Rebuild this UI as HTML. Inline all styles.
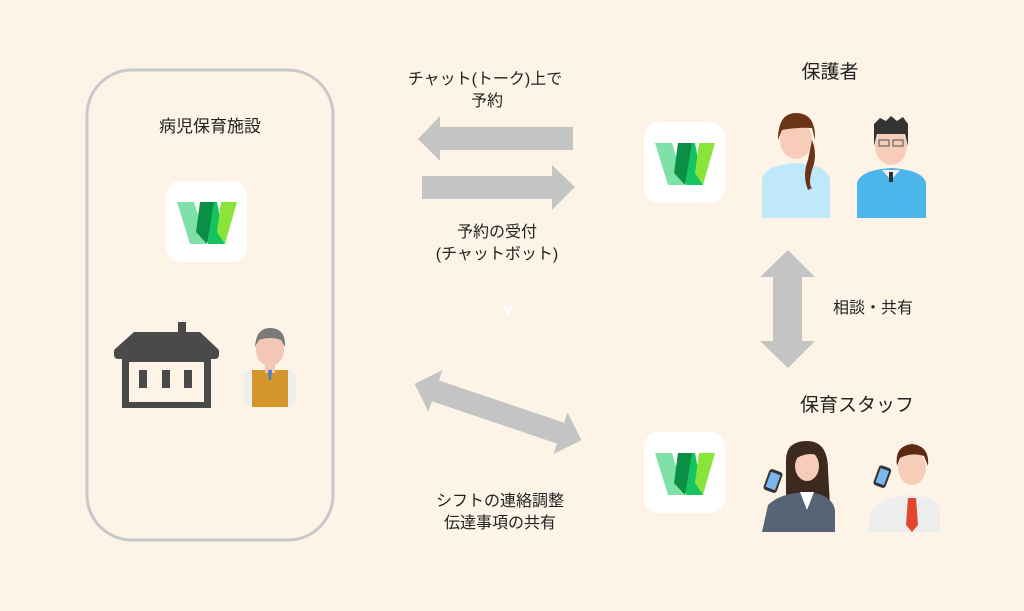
<!DOCTYPE html>
<html><head><meta charset="utf-8"><style>
html,body{margin:0;padding:0;background:#fdf4e7;}
svg{display:block}
text{font-family:"Liberation Sans","Noto Sans CJK JP",sans-serif;fill:#222;}
</style></head><body>
<svg width="1024" height="611" viewBox="0 0 1024 611" xmlns="http://www.w3.org/2000/svg">
<defs>
<g id="wlogo">
<rect x="0" y="0" width="81" height="81" rx="15" fill="#fff"/>
<g transform="translate(11,21)">
<polygon points="0,0 17,0 30,42 13,42" fill="#7fe0a8"/>
<polygon points="23,0 40,0 48,42 31,42" fill="#13c45f"/>
<polygon points="23,0 37,0 30,42 19,30" fill="#0a8f45"/>
<polygon points="44,0 60,0 48,42 40,30" fill="#8be43a"/>
</g>
</g>
</defs>
<rect width="1024" height="611" fill="#fdf4e7"/>
<!-- left box -->
<rect x="87" y="70" width="246" height="470" rx="45" fill="none" stroke="#c9c9c9" stroke-width="3"/>
<text x="210" y="132" font-size="17" text-anchor="middle">病児保育施設</text>
<use href="#wlogo" x="166" y="181"/>
<!-- house -->
<g fill="#4a4a4a">
<rect x="178" y="322" width="8" height="16"/>
<polygon points="134,332 200,332 219,350 114,350"/>
<rect x="114" y="348" width="105" height="11" rx="4"/>
<rect x="122" y="357" width="89" height="51"/>
</g>
<rect x="129" y="362" width="75" height="40" fill="#fdf4e7"/>
<g fill="#4a4a4a"><rect x="139" y="370" width="8" height="18"/><rect x="162" y="370" width="8" height="18"/><rect x="184" y="370" width="8" height="18"/></g>
<!-- elder -->
<rect x="244" y="370" width="52" height="37" rx="8" fill="#eee"/>
<polygon points="252,370 288,370 288,407 252,407" fill="#d4962a"/>
<rect x="265" y="365" width="10" height="8" fill="#f3c7b4"/>
<polygon points="268,370 272,370 271,380 269,380" fill="#3a7ee0"/>
<ellipse cx="270" cy="350" rx="14" ry="16" fill="#f3c7b4"/>
<path d="M255,347 Q256,328 270,328 Q286,328 285,347 L281,340 Q270,336 259,340 Z" fill="#7a7a7a"/>
<!-- top arrows -->
<text x="485" y="84" font-size="16" text-anchor="middle">チャット(トーク)上で</text>
<text x="487" y="106" font-size="16" text-anchor="middle">予約</text>
<polygon points="573,127 440,127 440,116 418,139 440,161 440,150 573,150" fill="#c4c4c4"/>
<polygon points="422,176 552,176 552,165 575,187 552,210 552,199 422,199" fill="#c4c4c4"/>
<text x="497" y="237" font-size="16" text-anchor="middle">予約の受付</text>
<text x="497" y="259" font-size="16" text-anchor="middle">(チャットボット)</text>
<text x="508" y="314" font-size="16" text-anchor="middle" style="fill:#fff;font-weight:bold">v</text>
<!-- diagonal double arrow -->
<g transform="translate(498,412) rotate(18.7)">
<polygon points="-88,0 -66,-22 -66,-11 66,-11 66,-22 88,0 66,22 66,11 -66,11 -66,22" fill="#c4c4c4"/>
</g>
<text x="500" y="506" font-size="16" text-anchor="middle">シフトの連絡調整</text>
<text x="500" y="528" font-size="16" text-anchor="middle">伝達事項の共有</text>
<!-- right side -->
<use href="#wlogo" x="644" y="122"/>
<use href="#wlogo" x="644" y="432"/>
<text x="830" y="78" font-size="19" text-anchor="middle">保護者</text>
<!-- woman parent -->
<path d="M762,218 L762,180 Q764,165 796,163 Q828,165 830,180 L830,218 Z" fill="#bfe9fb"/>
<ellipse cx="796" cy="140" rx="16" ry="19" fill="#f7cdb9"/>
<path d="M778,140 Q778,113 796,113 Q816,113 815,140 L812,128 Q798,127 782,130 Z" fill="#6b3416"/>
<path d="M812,140 Q818,155 812,170 Q808,185 812,188 L808,190 Q802,175 808,160 Z" fill="#6b3416"/>
<!-- man parent -->
<path d="M857,218 L857,183 Q860,170 891,168 Q923,170 926,183 L926,218 Z" fill="#4cb6ea"/>
<polygon points="882,170 900,170 891,180" fill="#f4f4f4"/>
<rect x="889" y="172" width="4" height="10" fill="#333"/>
<ellipse cx="891" cy="146" rx="16" ry="19" fill="#f7cdb9"/>
<path d="M874,146 L874,124 L880,118 L886,121 L891,116 L897,121 L903,117 L908,124 L908,146 L905,134 L877,134 Z" fill="#333"/>
<rect x="879" y="140" width="10" height="6" fill="none" stroke="#666" stroke-width="1.2"/>
<rect x="893" y="140" width="10" height="6" fill="none" stroke="#666" stroke-width="1.2"/>
<!-- vertical arrow -->
<polygon points="788,250 815,277 802,277 802,341 815,341 788,368 760,341 773,341 773,277 760,277" fill="#c4c4c4"/>
<text x="873" y="313" font-size="16" text-anchor="middle">相談・共有</text>
<text x="857" y="411" font-size="19" text-anchor="middle">保育スタッフ</text>
<!-- staff woman -->
<path d="M786,460 Q786,441 807,441 Q828,441 828,470 L830,505 L786,505 Z" fill="#3d2a1e"/>
<path d="M762,532 L768,505 Q780,493 807,492 Q832,494 835,510 L835,532 Z" fill="#566476"/>
<polygon points="800,492 814,492 807,510" fill="#fff"/>
<ellipse cx="807" cy="466" rx="12" ry="15" fill="#f7cdb9"/>
<path d="M794,466 Q795,449 807,449 Q820,449 820,466 L817,455 Q807,452 797,458 Z" fill="#3d2a1e"/>
<rect x="766" y="470" width="14" height="22" rx="3" transform="rotate(20 773 481)" fill="#333"/>
<rect x="768" y="473" width="10" height="16" transform="rotate(20 773 481)" fill="#7bb7ee"/>
<!-- staff man -->
<path d="M868,532 L872,510 Q885,496 912,495 Q938,497 940,510 L940,532 Z" fill="#ededed"/>
<polygon points="908,498 916,498 918,525 912,532 906,525" fill="#e0472b"/>
<ellipse cx="912" cy="468" rx="14" ry="17" fill="#f7cdb9"/>
<path d="M897,466 Q894,446 912,444 Q930,446 928,466 L924,456 Q912,452 900,458 Z" fill="#5a2a12"/>
<rect x="876" y="466" width="13" height="21" rx="3" transform="rotate(20 882 476)" fill="#333"/>
<rect x="878" y="469" width="9" height="15" transform="rotate(20 882 476)" fill="#7bb7ee"/>
</svg>
</body></html>
